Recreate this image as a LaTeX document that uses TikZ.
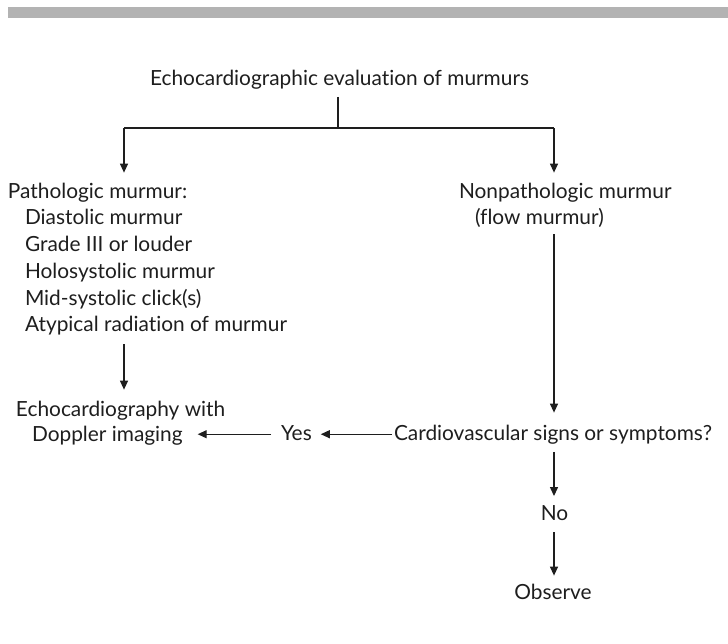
\documentclass[tikz,border=0pt]{standalone}
\usepackage{fontspec}
\setmainfont{Lato}[Ligatures={NoCommon}]
\usetikzlibrary{arrows.meta,calc}
\newlength\reftw
\definecolor{bargray}{RGB}{179,179,179}
\definecolor{ink}{RGB}{30,30,30}
\begin{document}
\settowidth\reftw{\fontsize{10pt}{12pt}\selectfont Echocardiographic evaluation of murmurs}
\pgfmathsetmacro\fsz{3790/\reftw}
\begin{tikzpicture}[x=1pt,y=-1pt,
  txt/.style={inner sep=0pt, outer sep=0pt, text=ink, font=\fontsize{\fsz pt}{\fsz pt}\selectfont},
  ln/.style={draw=ink, line width=1.2pt},
  arr/.style={ln, -{Triangle[length=9pt,width=8pt]}}]
\useasboundingbox (0,0) rectangle (728,643);
\fill[bargray] (8,7) rectangle (728,18);
% texts
\node[txt, anchor=base] (title) at (339.5,85) {Echocardiographic evaluation of murmurs};
\node[txt, anchor=base west] (pm0) at (8,198) {Pathologic murmur:};
\node[txt, anchor=base west] (pm1) at (25,224.75) {Diastolic murmur};
\node[txt, anchor=base west] (pm2) at (25,251.5) {Grade III or louder};
\node[txt, anchor=base west] (pm3) at (25,278.25) {Holosystolic murmur};
\node[txt, anchor=base west] (pm4) at (25,305) {Mid-systolic click(s)};
\node[txt, anchor=base west] (pm5) at (25,331.75) {Atypical radiation of murmur};
\node[txt, anchor=base west] (np1) at (459,198) {Nonpathologic murmur};
\node[txt, anchor=base west] (np2) at (475,224) {(flow murmur)};
\node[txt, anchor=base west] (echo1) at (16,416) {Echocardiography with};
\node[txt, anchor=base west] (echo2) at (32,441) {Doppler imaging};
\node[txt, anchor=base west] (yes) at (281,440) {Yes};
\node[txt, anchor=base west] (cv) at (394,440) {Cardiovascular signs or symptoms?};
\node[txt, anchor=base] (no) at (554.5,520) {No};
\node[txt, anchor=base] (obs) at (553,599) {Observe};
% junctions
\coordinate (split) at (338,128);
\coordinate (lc) at (124,128);
\coordinate (rc) at (554,128);
% connectors
\draw[ln, shorten <=8pt] (title.south -| split) -- (split);
\draw[ln] (lc) -- (rc);
\draw[arr, shorten >=10pt] (lc) -- (lc |- pm0.north);
\draw[arr, shorten >=10pt] (rc) -- (rc |- np1.north);
\draw[arr, shorten <=9pt, shorten >=11pt] (pm5.south -| lc) -- (echo1.north -| lc);
\draw[arr, shorten <=7pt, shorten >=12pt] (np2.south -| rc) -- (cv.north -| rc);
\draw[arr, shorten <=2pt, shorten >=9pt] (cv.west) -- (yes.east |- cv.west);
\draw[arr, shorten <=10pt, shorten >=15pt] (yes.west |- cv.west) -- (echo2.east |- cv.west);
\draw[arr, shorten <=8pt, shorten >=9pt] (cv.south -| rc) -- (no.north -| rc);
\draw[arr, shorten <=12pt, shorten >=8pt] (no.south -| rc) -- (obs.north -| rc);
\end{tikzpicture}
\end{document}
